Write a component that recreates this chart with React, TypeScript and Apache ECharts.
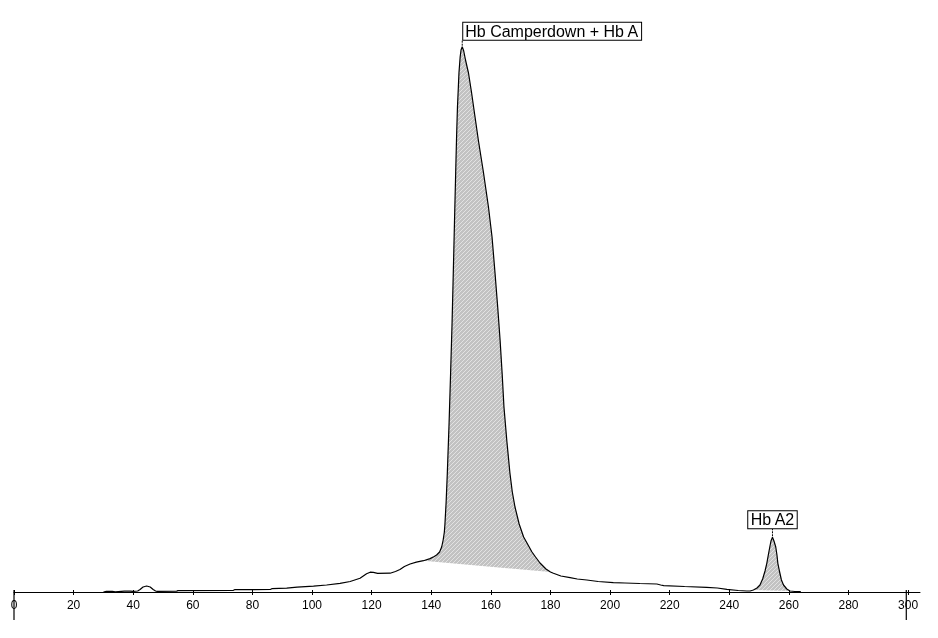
import React, { useEffect, useRef } from "react";
import * as echarts from "echarts";

// Retention-time axis values and detector response (chromatogram trace)
const curveX = [
  30, 31, 33, 34, 37, 39, 40, 41.5, 42.3, 43.3, 44.5, 45.7, 46.7, 47.5, 48, 54.6, 55, 73.5, 74, 86, 86.5, 91.5, 95,
  100.5, 104.9, 109.4, 112.8, 116.1, 118.3, 119.5, 120.6, 122, 126.2, 128, 129.5, 131, 132.9, 135, 137.4, 139.6, 141,
  141.8, 142.8, 143.5, 144.0, 144.4, 144.6, 145.0, 145.4, 146.0, 146.5, 147.0, 147.4, 147.8, 148.2, 148.5, 148.8,
  149.1, 149.3, 149.7, 150.0, 150.4, 150.9, 151.5, 152.5, 153.5, 154.6, 155.8, 157.5, 159.2, 160.4, 161.4, 162.3,
  163.1, 163.8, 164.4, 165.4, 166.4, 167.2, 168.1, 169.5, 171, 172.5, 173.8, 175, 176.5, 178.5, 180, 181, 183.5, 186.6,
  189, 192.2, 196, 201.1, 205, 210, 215.7, 217, 218, 225, 232.4, 236, 239.2, 243, 245.9, 247, 248.1, 249.3, 250.3,
  251.2, 252, 252.6, 253.1, 253.6, 254.0, 254.5, 255.0, 255.6, 256.0, 256.3, 256.9, 257.5, 258.2, 259.3, 260.4, 262,
  264,
];
const curveY = [
  0, 0.6, 0.6, 0.2, 0.8, 0.8, 0.6, 1, 2.5, 5, 6, 5, 2.5, 1, 0.7, 0.9, 1.4, 1.5, 2.3, 2.5, 3.3, 3.8, 4.8,
  5.8, 7, 8.7, 10.5, 13.7, 18.2, 19.8, 19.6, 18.7, 18.8, 20.5, 22.5, 25.5, 28, 29.8, 31.3, 33.4, 35.5,
  37, 40, 45, 52, 60, 68, 90, 119, 170, 219, 270, 319, 370, 419, 455, 485,
  505, 519, 535, 542, 545.3, 541, 532, 519, 500, 477, 452, 420, 385, 355, 319, 285,
  252, 218, 185, 150, 119, 100, 85, 68, 55, 47, 40, 35, 29, 23, 20, 18.7, 16, 14.3,
  13, 12, 10.5, 9.3, 9, 8.5, 8, 7, 6.3, 5.5, 4.7, 4, 2.7, 1.5, 1, 1, 2, 4, 7,
  13, 21, 28.7, 37, 45, 51, 54.7, 51, 45, 37, 28.7, 20, 12, 7, 3, 1, 0.5,
  0.3,
];

const tickValues = [0, 20, 40, 60, 80, 100, 120, 140, 160, 180, 200, 220, 240, 260, 280, 300];

// Integrated peaks
const peakNames = ["Hb Camperdown + Hb A", "Hb A2"];
const peakX = [150.4, 254.5];
const peakY = [545.3, 54.7];
const shadeStart = [137.4, 248.1];
const shadeEnd = [180, 260.4];

// Integration window markers
const windowMarks = [0, 299.4];

const FONT = 'Arial, "Liberation Sans", sans-serif';

export default function App() {
  const ref = useRef<HTMLDivElement>(null);

  useEffect(() => {
    if (!ref.current) return;
    const chart = echarts.init(ref.current, null, { renderer: "svg" });

    const c = document.createElement("canvas");
    c.width = 4;
    c.height = 4;
    const ctx = c.getContext("2d")!;
    ctx.fillStyle = "#c2c2c2";
    ctx.fillRect(0, 0, 4, 4);
    ctx.fillStyle = "#e2e2e2";
    for (let i = 0; i < 4; i++) ctx.fillRect(i, 3 - i, 1, 1);
    const pattern: any = { image: c.toDataURL(), repeat: "repeat", imageWidth: 4, imageHeight: 4 };

    const curve = curveX.map((x, i) => [x, curveY[i]]);

    chart.setOption({
      animation: false,
      grid: { left: 14, right: 18, top: 32, bottom: 46 },
      xAxis: [
        {
          type: "value",
          min: 0,
          max: 304,
          interval: 20,
          splitLine: { show: false },
          axisLine: { show: true, lineStyle: { color: "#000", width: 1 } },
          axisTick: { show: true, length: 3, customValues: tickValues, lineStyle: { color: "#000" } },
          axisLabel: {
            show: true,
            customValues: tickValues,
            color: "#000",
            fontFamily: FONT,
            fontSize: 12,
            margin: 7,
          },
        },
        {
          type: "value",
          min: 0,
          max: 304,
          interval: 20,
          position: "bottom",
          splitLine: { show: false },
          axisLine: { show: false },
          axisTick: { show: true, inside: true, length: 2, customValues: tickValues, lineStyle: { color: "#000" } },
          axisLabel: { show: false },
        },
      ],
      yAxis: { type: "value", min: 0, max: 560, show: false },
      series: [
        {
          type: "custom",
          z: 1,
          data: shadeStart.map((s, i) => [s, 0, i]),
          encode: { x: 0, y: 1 },
          renderItem: (params: any, api: any) => {
            const i = params.dataIndex;
            const pts: number[][] = [];
            for (let k = 0; k < curveX.length; k++) {
              if (curveX[k] >= shadeStart[i] && curveX[k] <= shadeEnd[i]) {
                pts.push(api.coord([curveX[k], curveY[k]]));
              }
            }
            return {
              type: "polygon",
              shape: { points: pts },
              style: { fill: pattern, stroke: null },
            };
          },
        },
        {
          type: "line",
          z: 3,
          data: curve,
          showSymbol: false,
          symbol: "none",
          lineStyle: { color: "#000", width: 1.2 },
        },
        {
          type: "custom",
          z: 4,
          data: windowMarks.map((x) => [x, 0]),
          encode: { x: 0, y: 1 },
          renderItem: (params: any, api: any) => {
            const p = api.coord([api.value(0), 0]);
            return {
              type: "line",
              shape: { x1: p[0], y1: p[1] - 2, x2: p[0], y2: p[1] + 28 },
              style: { stroke: "#000", lineWidth: 1.2 },
            };
          },
        },
        {
          type: "custom",
          z: 5,
          data: peakX.map((x, i) => [x, peakY[i], i]),
          encode: { x: 0, y: 1 },
          renderItem: (params: any, api: any) => {
            const i = params.dataIndex;
            const p = api.coord([peakX[i], peakY[i]]);
            const gap = i === 0 ? 7 : 9;
            return {
              type: "group",
              children: [
                {
                  type: "line",
                  shape: { x1: p[0], y1: p[1] - 1, x2: p[0], y2: p[1] - gap },
                  style: { stroke: "#000", lineWidth: 1, lineDash: [2, 1] },
                },
                {
                  type: "text",
                  x: i === 0 ? p[0] + 1 : p[0],
                  y: p[1] - gap,
                  style: {
                    text: peakNames[i],
                    fill: "#000",
                    font: `16px ${FONT}`,
                    align: i === 0 ? "left" : "center",
                    verticalAlign: "bottom",
                    backgroundColor: "#fff",
                    borderColor: "#000",
                    borderWidth: 1,
                    padding: [0, 2, 0, 2],
                    lineHeight: 17,
                  },
                },
              ],
            };
          },
        },
      ],
    });

    return () => chart.dispose();
  }, []);

  return <div ref={ref} style={{ position: "fixed", left: 0, top: 0, width: 938, height: 638 }} />;
}
